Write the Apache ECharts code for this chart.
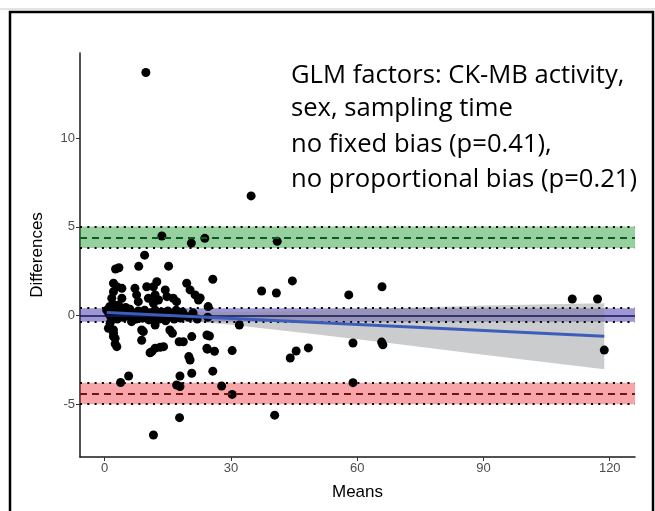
<!DOCTYPE html>
<html><head><meta charset="utf-8">
<script src="https://cdn.jsdelivr.net/npm/echarts@6/dist/echarts.min.js"></script>
<style>html,body{margin:0;padding:0;background:#fff}#c{width:655px;height:511px}</style>
</head><body><div id="c"></div>
<script>
// Bland-Altman data (means, differences)
const means = [
  9.8,34.8,13.6,20.6,23.8,41.0,9.5,8.1,3.4,2.6,15.2,25.7,19.5,12.4,2.1,10.0,2.9,11.6,4.1,7.2,
  14.4,20.3,2.1,37.3,40.8,44.6,58.0,65.9,111.1,117.1,7.6,12.0,21.5,14.8,1.7,4.1,10.4,16.3,22.7,22.3,
  12.8,8.0,17.1,11.6,2.1,3.3,24.6,1.2,5.0,
  0.5,1.0,1.5,2.0,2.5,3.0,3.5,4.0,4.5,5.0,5.5,6.0,6.4,7.0,7.5,8.0,8.5,9.0,9.5,10.0,
  10.5,11.0,11.5,12.0,12.5,13.0,13.5,14.0,14.5,15.0,15.5,16.0,16.5,17.0,17.5,18.0,18.5,19.0,20.0,21.0,
  22.0,1.3,24.5,
  0.9,2.1,2.1,2.1,2.5,2.9,2.5,9.2,8.8,8.8,11.2,12.0,15.5,16.1,17.7,18.7,20.7,14.0,12.0,10.8,
  13.2,20.0,20.3,24.3,24.3,26.1,24.4,24.9,32.0,30.3,45.5,48.4,44.1,59.0,65.8,66.1,118.7,
  20.7,17.9,25.7,5.7,3.8,17.1,17.9,27.8,30.3,59.0,17.8,11.6,40.4
];
const diffs = [
  13.7,6.74,4.48,4.08,4.35,4.18,3.4,2.77,2.69,2.62,2.78,2.04,1.82,1.9,1.82,1.62,1.62,1.62,1.53,1.53,
  1.44,1.44,1.34,1.38,1.27,1.95,1.16,1.62,0.93,0.93,1.16,1.16,1.16,1.06,0.97,0.97,0.97,0.97,0.99,0.87,
  0.87,0.78,0.78,0.69,0.59,0.59,0.5,0.5,0.45,
  0.3,0.1,-0.1,0.2,0.0,-0.2,0.3,0.1,-0.1,0.2,0.0,0.35,-0.35,0.1,-0.2,0.25,0.0,-0.15,0.3,0.05,
  -0.25,0.15,-0.1,0.3,0.0,-0.2,0.2,0.05,-0.3,0.25,-0.05,0.1,-0.2,0.3,0.0,-0.15,0.2,0.0,-0.1,0.15,
  -0.2,-0.44,-0.1,
  -0.72,-0.82,-1.0,-1.19,-1.29,-1.76,-1.6,-0.91,-0.82,-1.4,-2.04,-0.54,-0.82,-1.0,-1.48,-1.48,-1.19,-1.76,-1.85,-2.1,
  -1.79,-2.32,-2.51,-1.1,-1.85,-2.02,-1.9,-1.16,-0.54,-1.98,-2.0,-1.83,-2.4,-1.55,-1.5,-1.65,-1.95,
  -3.26,-3.41,-3.14,-3.41,-3.78,-3.92,-4.01,-3.98,-4.45,-3.79,-5.76,-6.74,-5.62
];
const xTicks = [0, 30, 60, 90, 120];
const yTicks = [-5, 0, 5, 10];
const meanBias = 0.01, meanBiasCI = [-0.35, 0.41];
const upperLoA = 4.41, upperLoACI = [3.8, 5.02];
const lowerLoA = -4.39, lowerLoACI = [-5.0, -3.79];
const regX = [0.5, 118.7];
const regY = [0.17, -1.17];
const ciX = [0.5, 15, 30, 50, 70, 90, 118.7];
const ciUpper = [0.50, 0.22, 0.18, 0.26, 0.42, 0.56, 0.69];
const ciLower = [-0.18, -0.22, -0.52, -1.06, -1.62, -2.22, -3.03];
const annotation = [
  'GLM factors: CK-MB activity,',
  'sex, sampling time',
  'no fixed bias (p=0.41),',
  'no proportional bias (p=0.21)'
];

const chart = echarts.init(document.getElementById('c'), null, {renderer: 'canvas'});
const pts = means.map((m, i) => [m, diffs[i]]);
const ciPoly = ciX.map((x, i) => [x, ciUpper[i], ciLower[i]]);
const dotted = {type: [2, 5.3], width: 2, color: '#000', cap: 'butt'};
const axisFont = 'Liberation Sans, Arial, sans-serif';
const textFont = 'Open Sans, sans-serif';
const annY = [76, 109, 145, 180];

function bandSeries(lo, mid, hi, fill, lineColor, dashed) {
  return {
    type: 'line', data: [], z: 6, silent: true,
    markArea: {silent: true, itemStyle: {color: fill}, data: [[{yAxis: lo}, {yAxis: hi}]]},
    markLine: {
      silent: true, symbol: 'none', label: {show: false},
      data: [
        {yAxis: lo, lineStyle: dotted},
        {yAxis: hi, lineStyle: dotted},
        {yAxis: mid, lineStyle: dashed ? {type: [7, 5], width: 2, color: lineColor, cap: 'butt'} : {type: 'solid', width: 1.5, color: lineColor}}
      ]
    }
  };
}

chart.setOption({
  animation: false,
  backgroundColor: '#fff',
  grid: {left: 80, right: 20, top: 53, bottom: 54, containLabel: false, outerBoundsMode: 'none'},
  xAxis: {
    type: 'value', min: -5.85, max: 126,
    axisLine: {show: true, onZero: false, lineStyle: {color: '#1a1a1a', width: 1.5}},
    axisTick: {show: true, customValues: xTicks, length: 4, lineStyle: {color: '#333', width: 1}},
    axisLabel: {customValues: xTicks, color: '#4d4d4d', fontSize: 13, margin: 5, fontFamily: axisFont},
    splitLine: {show: false},
    name: 'Means', nameLocation: 'middle', nameGap: 27,
    nameTextStyle: {fontSize: 17, color: '#000', fontFamily: axisFont}
  },
  yAxis: {
    type: 'value', min: -7.98, max: 14.8,
    axisLine: {show: true, onZero: false, lineStyle: {color: '#1a1a1a', width: 1.5}},
    axisTick: {show: true, customValues: yTicks, length: 4, lineStyle: {color: '#333', width: 1}},
    axisLabel: {customValues: yTicks, color: '#4d4d4d', fontSize: 13, margin: 5, fontFamily: axisFont},
    splitLine: {show: false},
    name: 'Differences', nameLocation: 'middle', nameGap: 34, nameRotate: 90,
    nameTextStyle: {fontSize: 17, color: '#000', fontFamily: axisFont}
  },
  series: [
    {
      type: 'custom', z: 1, silent: true,
      data: [0],
      renderItem: function (params, api) {
        const up = ciPoly.map(p => api.coord([p[0], p[1]]));
        const lo = ciPoly.slice().reverse().map(p => api.coord([p[0], p[2]]));
        return {type: 'polygon', shape: {points: up.concat(lo)}, style: {fill: 'rgba(140,142,146,0.45)'}};
      }
    },
    {
      type: 'scatter', z: 2, data: pts, symbol: 'circle', symbolSize: 9,
      itemStyle: {color: '#000', opacity: 1}
    },
    bandSeries(upperLoACI[0], upperLoA, upperLoACI[1], 'rgba(20,150,40,0.45)', '#0b5a22', true),
    bandSeries(lowerLoACI[0], lowerLoA, lowerLoACI[1], 'rgba(235,30,40,0.4)', '#6e1414', true),
    bandSeries(meanBiasCI[0], meanBias, meanBiasCI[1], 'rgba(60,50,170,0.5)', '#14145a', false),
    {
      type: 'line', z: 8, data: regX.map((x, i) => [x, regY[i]]), symbol: 'none',
      lineStyle: {color: '#3d5dbb', width: 3}
    }
  ],
  graphic: [
    {type: 'line', shape: {x1: 0, y1: 9, x2: 655, y2: 9}, style: {stroke: '#c8c8c8', lineWidth: 1}, z: 10},
    {type: 'rect', shape: {x: 10, y: 12, width: 643, height: 520}, style: {fill: null, stroke: '#000', lineWidth: 2.5}, z: 10},
  ].concat(annotation.map((t, i) => ({
    type: 'text', x: 291, y: annY[i], z: 10,
    style: {text: t, font: '25.6px ' + textFont, fill: '#000', textVerticalAlign: 'middle', verticalAlign: 'middle'}
  })))
});
</script>
</body></html>
